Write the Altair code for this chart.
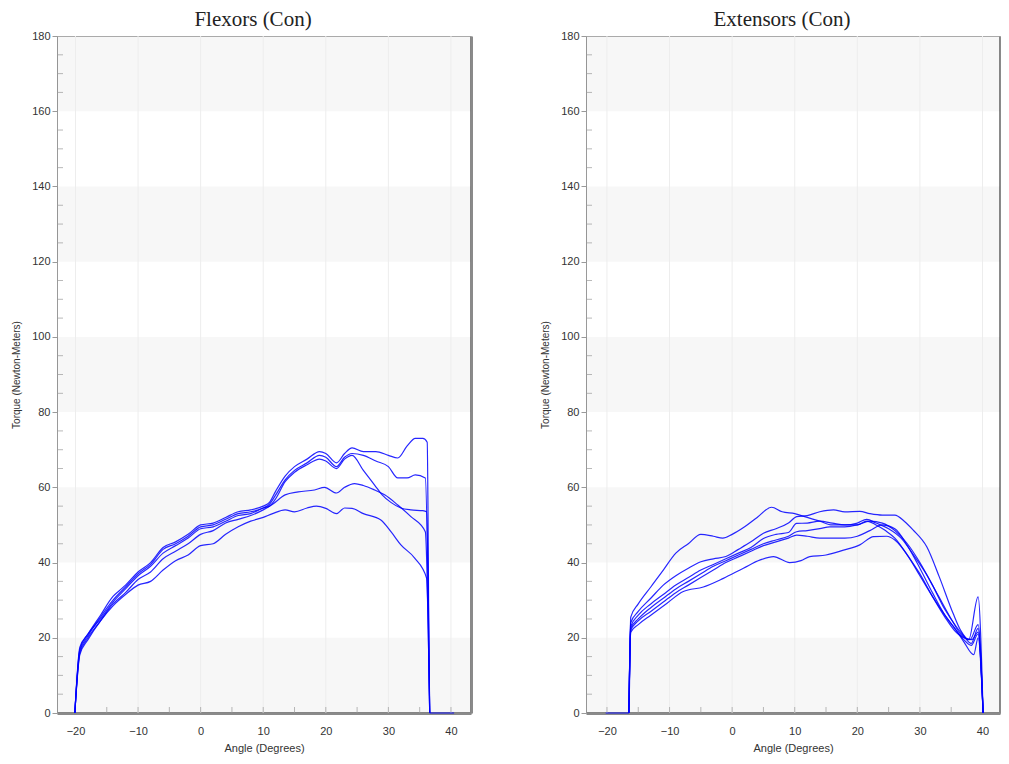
import altair as alt
import pandas as pd

# ---------------- Flexors (Con) : five repetitions ----------------
fa_x = [-20.1, -19.3, -18, -16, -14, -13, -12, -10, -8, -6, -4, -2, 0, 2, 4, 6, 8, 10, 11, 12, 13.5, 15, 17, 19, 20, 21.7, 23, 24.2, 26, 28, 30, 31.5, 33, 34.3, 35.5, 36.2, 36.6, 38, 40.5]
fa_y = [0, 17.5, 21, 26, 31, 32.5, 34, 37.5, 40, 44, 45.5, 47.5, 50, 50.5, 52, 53.5, 54, 55, 56, 59, 63, 65.5, 67.5, 69.5, 69, 66.5, 69, 70.5, 69.5, 69.5, 68.5, 67.8, 71, 73, 73, 72, 0, 0, 0]

fb_x = [-20.1, -19.3, -18, -16, -14, -12, -10, -8, -6, -4, -2, 0, 2, 4, 6, 8, 10, 11, 12, 13.5, 15, 17, 19, 20, 21.7, 23, 24.2, 26, 28, 30, 31.5, 33, 34.3, 35.9, 36.6]
fb_y = [0, 16.5, 20.5, 25.5, 30, 33.5, 37, 39.5, 43.5, 45, 47, 49.5, 50, 51.5, 53, 53.5, 54.5, 55.5, 58, 62, 64.5, 66.5, 68.5, 68, 65.5, 68, 69, 68.5, 67, 65.5, 62.5, 62.5, 63.3, 62.5, 0]

fc_x = [-20.1, -19.3, -18, -16, -14, -12, -10, -8, -6, -4, -2, 0, 2, 4, 6, 8, 10, 11, 12, 13.5, 15, 17, 19, 20, 21.7, 23, 24.2, 26, 27.8, 29, 30.4, 32, 33.6, 35.5, 36.1, 36.6]
fc_y = [0, 17, 21, 25, 29.5, 33, 36.5, 39, 42.5, 44.5, 46.5, 49, 49.5, 51, 52.5, 53, 54.5, 55, 57, 61.5, 64, 66, 67.5, 67, 65, 67.5, 68.5, 64.5, 60.6, 58, 56, 54.5, 54, 53.8, 53.5, 0]

fd_x = [-20.1, -19.3, -18, -16, -14, -12, -10, -8, -6, -4, -2, 0, 2, 4, 6, 8, 10, 11.5, 13.5, 15.6, 18.2, 19.8, 21.7, 23, 24.6, 26, 27.8, 29.4, 31.5, 33.6, 35.9, 36.6]
fd_y = [0, 16, 20, 24.5, 29, 32, 35.5, 37.5, 41, 43, 45, 47.5, 48.5, 50.5, 51.5, 52.5, 54, 55.5, 58, 58.8, 59.3, 60, 58.5, 60, 61, 60.5, 59.3, 58, 55.3, 52.2, 48.2, 0]

fe_x = [-20.1, -19.3, -18, -16, -14, -12, -10, -8, -6, -4, -2, 0, 2, 4, 6, 8, 10, 11.5, 13.5, 15, 17, 18.5, 20, 21.7, 23, 24.2, 26, 28.8, 30.5, 32, 34.2, 36.1, 36.6]
fe_y = [0, 15.5, 19.5, 24.5, 28.5, 31.5, 34, 35, 38, 40.5, 42, 44.5, 45, 47.5, 49.5, 51, 52, 53, 54, 53.5, 54.5, 55, 54.4, 53, 54.5, 54.4, 53, 51.3, 48, 44.7, 41.2, 35.9, 0]

# ---------------- Extensors (Con) : six repetitions ----------------
xa_x = [-20.2, -16.5, -16.2, -15, -13, -11, -9, -7, -5, -3, -1.5, 0, 2, 4, 6.3, 8, 10, 12, 14, 16, 18, 20, 21.5, 23, 24.5, 26, 28, 30, 32, 34, 35.5, 37, 38.3, 39.3, 40.1]
xa_y = [0, 0, 25.5, 29, 33.5, 38, 42.5, 45, 47.5, 47, 46.5, 47.5, 49.5, 52, 54.7, 53.5, 53, 52, 51, 50, 50, 50, 51, 50, 48.5, 46.5, 42, 37, 31, 25.5, 22, 20, 19.5, 21.5, 0]

xb_x = [-16.5, -16.2, -15, -13, -11, -9, -7, -5, -3, -1, 1, 3, 5, 7, 9, 10.3, 12, 14, 16.2, 18, 20.4, 22, 24, 26, 27.5, 28.9, 31.1, 33.1, 35.3, 36.5, 37.8, 39.3, 40.1]
xb_y = [0, 24, 27, 30.5, 34, 36.5, 38.5, 40.2, 41, 41.6, 43.5, 45.5, 47.8, 49, 50.5, 52.2, 52.5, 53.5, 54, 53.5, 53.6, 53, 52.6, 52.6, 51, 48.7, 44.2, 36.2, 26.5, 22, 19.5, 30.9, 0]

xc_x = [-16.5, -16.2, -15, -13, -11, -9, -7, -5, -3, -1, 1, 3, 5, 7, 9, 10.3, 12, 14, 16, 18, 20, 21.5, 23, 25, 27, 29, 31, 33, 35, 36.5, 38, 39.3, 40.1]
xc_y = [0, 23, 26, 29, 31.5, 34, 36, 38, 39.5, 41, 42.5, 44, 46.4, 47.5, 48, 50.4, 50.5, 51, 50.5, 50, 50.5, 51.5, 50.5, 49, 46.5, 42, 37, 31, 25, 21, 19.5, 23.5, 0]

xd_x = [-16.5, -16.2, -15, -13, -11, -9, -7, -5, -3, -1, 1, 3, 5, 7, 9, 10.3, 12, 14, 15.6, 18, 20, 22, 24, 26, 28, 30, 32, 34, 35.8, 37, 38.2, 39.3, 40.1]
xd_y = [0, 22.5, 25, 28, 30.5, 33, 35, 37, 39, 40.5, 42, 43.5, 45, 46, 47, 48.2, 48.5, 49, 49.5, 49.5, 50, 51, 50.5, 48.5, 45, 40, 34, 27.5, 23, 20.5, 18.5, 22.5, 0]

xe_x = [-16.5, -16.2, -15, -13, -11, -9, -7, -5, -3, -1, 1, 3, 5, 7, 9, 10.3, 12, 14, 15.6, 18, 20, 22, 24, 26, 28, 30, 32, 34, 35.8, 37, 38.2, 39.3, 40.1]
xe_y = [0, 22, 24.5, 27, 29.5, 32, 34, 36, 38, 40, 41.5, 43, 44.5, 45.5, 46.5, 47.3, 47, 46.5, 46.5, 46.5, 47, 48.5, 50, 49, 44.5, 38.5, 32, 26, 22, 19.5, 18, 21, 0]

xf_x = [-16.5, -16.2, -15, -13, -10.4, -7.8, -4.6, -1.4, 1.8, 4.5, 6.6, 9.2, 11, 12.4, 15, 17.8, 20.4, 22.6, 24.7, 26, 28, 30, 32, 34, 35.8, 37, 38.6, 39.3, 40.1]
xf_y = [0, 21.5, 23.5, 26, 29.2, 32.3, 33.5, 35.8, 38.5, 40.7, 41.6, 40, 40.5, 41.6, 42, 43.3, 44.7, 46.9, 47, 46, 42, 36.5, 31, 26, 22, 19, 15.5, 20, 0]

# ---------------- axes / background ----------------
band_lo = [0, 40, 80, 120, 160]
band_hi = [20, 60, 100, 140, 180]
x_major = [-20, -10, 0, 10, 20, 30, 40]
x_minor = [-20, -15, -10, -5, 0, 5, 10, 15, 20, 25, 30, 35, 40]
y_major = [0, 20, 40, 60, 80, 100, 120, 140, 160, 180]
y_minor = [v for v in range(5, 180, 5) if v % 20 != 0]

X_DOMAIN_FLEX = [-22.95, 43.2]
X_DOMAIN_EXT = [-23.35, 42.8]
Y_DOMAIN = [0, 180]
W, H = 414, 677
BLUE = "#0000ff"
GRAY = "#9a9a9a"


def curves_df(curves):
    rows = []
    for name, xs, ys in curves:
        for i, (a, t) in enumerate(zip(xs, ys)):
            rows.append({"curve": name, "i": i, "angle": a, "torque": t})
    return pd.DataFrame(rows)


def panel(curves, title, xdom):
    xs = alt.Scale(domain=xdom, nice=False, zero=False)
    ys = alt.Scale(domain=Y_DOMAIN, nice=False)

    bands_df = pd.DataFrame({"lo": band_lo, "hi": band_hi,
                             "x0": [xdom[0]] * len(band_lo),
                             "x1": [xdom[1]] * len(band_lo)})
    bands = alt.Chart(bands_df).mark_rect(
        color="#000000", opacity=0.03
    ).encode(
        x=alt.X("x0:Q", scale=xs,
                axis=alt.Axis(values=x_major, ticks=False, grid=False,
                              domainColor="#8a8a8a", domainWidth=3,
                              labelPadding=12, title="Angle (Degrees)",
                              titlePadding=6)),
        x2="x1:Q",
        y=alt.Y("lo:Q", scale=ys,
                axis=alt.Axis(values=y_major, tickSize=5, tickColor=GRAY,
                              domainColor=GRAY, grid=False, labelPadding=2,
                              title="Torque (Newton-Meters)", titleFontSize=10,
                              titlePadding=10)),
        y2="hi:Q",
    )

    xgrid = alt.Chart(pd.DataFrame({"v": x_major})).mark_rule(
        color="#ededed", strokeWidth=1
    ).encode(x=alt.X("v:Q", scale=xs))

    xticks = alt.Chart(pd.DataFrame({"v": x_minor})).mark_tick(
        color=GRAY, thickness=1, size=6, orient="vertical"
    ).encode(x=alt.X("v:Q", scale=xs), y=alt.value(H - 3))

    yticks = alt.Chart(pd.DataFrame({"v": y_minor})).mark_tick(
        color=GRAY, thickness=1, size=6, orient="horizontal"
    ).encode(y=alt.Y("v:Q", scale=ys, axis=None), x=alt.value(3))

    lines = alt.Chart(curves_df(curves)).mark_line(
        color=BLUE, strokeWidth=1.2, opacity=0.85, interpolate="monotone"
    ).encode(
        x=alt.X("angle:Q", scale=xs),
        y=alt.Y("torque:Q", scale=ys,
                axis=alt.Axis(orient="right", labels=False, ticks=False,
                              grid=False, title=None, domainColor="#8a8a8a",
                              domainWidth=3)),
        detail="curve:N",
        order="i:Q",
    )

    return alt.layer(bands, xgrid, xticks, yticks, lines).resolve_axis(
        y="independent"
    ).properties(
        width=W, height=H,
        title=alt.TitleParams(title, font="Liberation Serif", fontSize=21,
                              fontWeight="normal", color="#222222", offset=0,
                              anchor="middle", dx=-11),
    )


left = panel([("A", fa_x, fa_y), ("B", fb_x, fb_y), ("C", fc_x, fc_y),
              ("D", fd_x, fd_y), ("E", fe_x, fe_y)], "Flexors (Con)",
             X_DOMAIN_FLEX)
right = panel([("A", xa_x, xa_y), ("B", xb_x, xb_y), ("C", xc_x, xc_y),
               ("D", xd_x, xd_y), ("E", xe_x, xe_y), ("F", xf_x, xf_y)],
              "Extensors (Con)", X_DOMAIN_EXT)

chart = alt.hconcat(left, right, spacing=68).properties(
    padding={"left": 3, "top": 0, "right": 0, "bottom": 0}
).configure_view(
    stroke="#b0b0b0", strokeWidth=1
).configure_axis(
    labelFont="Liberation Sans", labelFontSize=11, labelColor="#333333",
    titleFont="Liberation Sans", titleFontSize=11, titleFontWeight="normal",
    titleColor="#333333",
)

chart.save("out.html", embed_options={"renderer": "svg", "actions": False})
